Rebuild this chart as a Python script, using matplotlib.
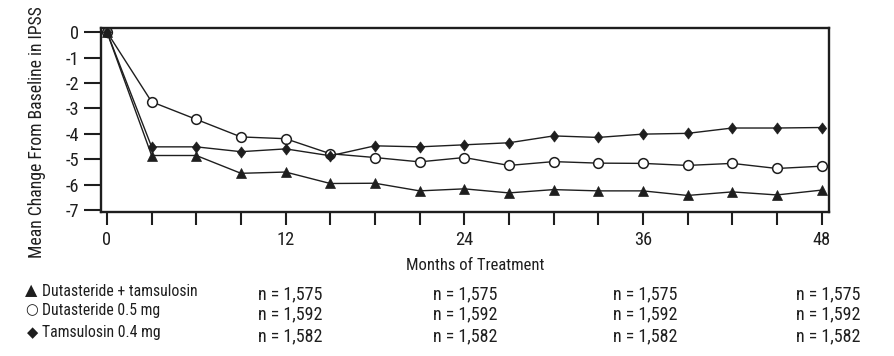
import matplotlib
matplotlib.use("Agg")
import matplotlib.pyplot as plt
from matplotlib import font_manager
from matplotlib.font_manager import FontProperties
from matplotlib.textpath import TextPath
from matplotlib.path import Path

# ---------------- data ----------------
months = [0, 3, 6, 9, 12, 15, 18, 21, 24, 27, 30, 33, 36, 39, 42, 45, 48]
combo = [0, -4.85, -4.85, -5.55, -5.5, -5.95, -5.94, -6.24, -6.16, -6.32, -6.19,
         -6.24, -6.24, -6.42, -6.28, -6.4, -6.21]
dutasteride = [0, -2.74, -3.43, -4.12, -4.19, -4.78, -4.93, -5.1, -4.93, -5.24,
               -5.09, -5.15, -5.16, -5.24, -5.16, -5.36, -5.27]
tamsulosin = [0, -4.51, -4.51, -4.7, -4.59, -4.86, -4.47, -4.51, -4.43, -4.35,
              -4.08, -4.14, -4.01, -3.98, -3.77, -3.77, -3.75]

series_labels = ['Dutasteride + tamsulosin', 'Dutasteride 0.5 mg', 'Tamsulosin 0.4 mg']
legend_symbols = ['\u25B2', '\u25CB', '\u25C6']
n_values = ['n = 1,575', 'n = 1,592', 'n = 1,582']
n_columns = 4
xtick_labels = [0, 12, 24, 36, 48]
yticks = [0, -1, -2, -3, -4, -5, -6, -7]

# ---------------- font choice ----------------
names = {f.name for f in font_manager.fontManager.ttflist}
FONT = None
for cand in ['Liberation Sans Narrow', 'Arial Narrow', 'Roboto Condensed',
             'Open Sans Condensed', 'DejaVu Sans Condensed']:
    if cand in names:
        FONT = cand
        break
if FONT is None:
    FONT = 'Liberation Sans'
plt.rcParams['font.family'] = [FONT, 'DejaVu Sans']
prop = FontProperties(family=[FONT, 'DejaVu Sans'])


def fit(text, target_px):
    w = TextPath((0, 0), text, size=10, prop=prop).get_extents().width * 100 / 72
    return 10 * target_px / w


fs_legend = fit('Dutasteride + tamsulosin', 153)
fs_n = fit('n = 1,575', 63)
fs_xlabel = fit('Months of Treatment', 137)
fs_ylabel = fit('Mean Change From Baseline in IPSS', 250)
fs_tick = fit('12', 16)

W, H = 894, 356
fig = plt.figure(figsize=(W / 100, H / 100), dpi=100)
ax = fig.add_axes([101 / W, 1 - 212 / H, 728 / W, 184 / H])

lc = '#1e1e1e'
diamond = Path([(0, 1), (0.75, 0), (0, -1), (-0.75, 0), (0, 1)],
               [Path.MOVETO, Path.LINETO, Path.LINETO, Path.LINETO, Path.CLOSEPOLY])
ax.plot(months, dutasteride, color=lc, lw=1.0, marker='o', ms=7,
        mfc='white', mec=lc, mew=1.1, zorder=3)
ax.plot(months, tamsulosin, color=lc, lw=1.0, marker=diamond, ms=8,
        mfc=lc, mec=lc, mew=0.5, zorder=4)
ax.plot(months, combo, color=lc, lw=1.0, marker='^', ms=6.8,
        mfc=lc, mec=lc, mew=0.5, zorder=5)

ax.set_xlim(-0.4, 48.5)
ax.set_ylim(-7.07, 0.16)
ax.set_xticks(list(range(0, 49, 3)))
ax.set_xticklabels([str(m) if m in xtick_labels else '' for m in range(0, 49, 3)])
ax.set_yticks(yticks)
ax.set_yticklabels([str(v) for v in yticks])

for s in ax.spines.values():
    s.set_linewidth(1.7)
    s.set_color('#1e1e1e')
ax.tick_params(axis='both', direction='out', width=1.5, colors='#1e1e1e',
               labelsize=fs_tick)
ax.tick_params(axis='y', length=12, pad=4)
ax.tick_params(axis='x', length=9.5, pad=4)

fig.text(37 / W, 1 - 132 / H, 'Mean Change From Baseline in IPSS', rotation=90,
         ha='center', va='center', fontsize=fs_ylabel, color='#1e1e1e')
fig.text(475.5 / W, 1 - 265 / H, 'Months of Treatment', ha='center', va='center',
         fontsize=fs_xlabel, color='#1e1e1e')

leg_y = [291, 310, 332.5]
sym_x = [25, 25, 27]
sym_fs = [11.5, 10.5, 10.5]
n_y = [294.5, 314.5, 336]
col_x = [258, 433, 613, 796]
for i in range(3):
    fig.text(sym_x[i] / W, 1 - leg_y[i] / H, legend_symbols[i], ha='left', va='center',
             fontsize=sym_fs[i], color='#1e1e1e', family=['DejaVu Sans'])
    fig.text(41.5 / W, 1 - leg_y[i] / H, series_labels[i], ha='left', va='center',
             fontsize=fs_legend, color='#1e1e1e')
    for c in range(n_columns):
        fig.text(col_x[c] / W, 1 - n_y[i] / H, n_values[i], ha='left', va='center',
                 fontsize=fs_n, color='#1e1e1e')

fig.savefig('out.png', dpi=100)
